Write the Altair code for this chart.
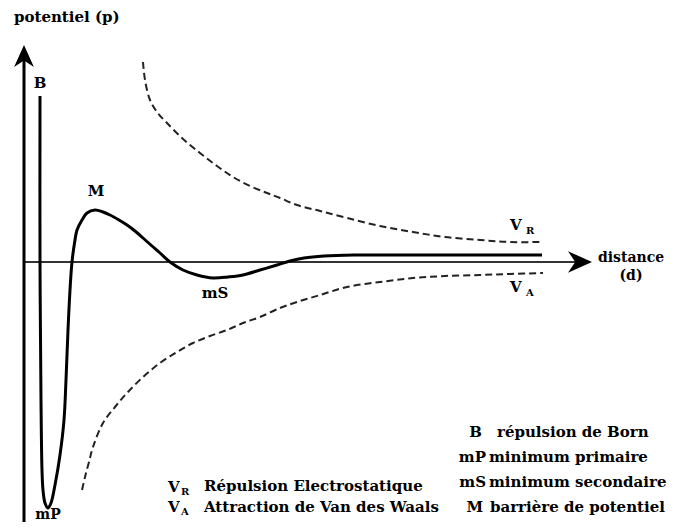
import altair as alt
import pandas as pd

# ---- data (d = distance, p = potentiel; 0 at the axes) ----
tot_d = [16, 16, 17, 18, 19, 21, 24, 27, 31, 36, 40, 42, 44, 46, 48, 51, 53, 58, 63, 71, 79, 86, 95,
         103, 111, 119, 128, 136, 146, 159, 173, 189, 204, 219, 236, 253, 266, 280, 300, 330, 370, 420,
         470, 518]
tot_p = [166, 2, -138, -208, -228, -241, -246, -241, -223, -193, -158, -118, -68, -28, 0, 22, 32, 42, 49,
         52, 50, 47, 42, 37, 31, 24, 16, 9, 0, -8, -13, -16, -15, -13, -8, -3, 1, 4, 6, 7, 7, 7, 7, 7]

vr_d = [119, 121, 126, 133, 143, 159, 176, 193, 209, 226, 243, 256, 273, 296, 323, 356, 389, 421, 456, 486, 519]
vr_p = [200, 182, 162, 150, 139, 123, 109, 96, 85, 76, 69, 64, 57, 51, 44, 36, 30, 25, 22, 20, 20]

va_d = [58, 61, 65, 69, 79, 91, 103, 119, 136, 153, 169, 186, 203, 219, 236, 256, 273, 296, 323, 356,
        389, 421, 456, 486, 519]
va_p = [-228, -215, -200, -185, -161, -145, -131, -115, -101, -90, -81, -74, -68, -61, -55, -46, -40,
        -33, -25, -20, -16, -14, -13, -12, -11]

# labels
left_t = ["potentiel (p)", "V", "V", "V", "Répulsion Electrostatique", "V",
          "Attraction de Van des Waals", "répulsion de Born", "minimum primaire",
          "minimum secondaire", "barrière de potentiel"]
left_d = [-10, 486, 486, 144, 180, 144, 180, 473, 465, 465, 466]
left_p = [245, 37, -25, -225, -224, -245, -245, -170, -195, -220, -245]

key_t = ["B", "mP", "mS", "M"]
key_d = [458, 462, 462, 459]
key_p = [-170, -195, -220, -245]

center_t = ["B", "M", "mS"]
center_d = [16, 72, 191]
center_p = [179, 71, -31]

small_t = ["distance", "(d)", "mP"]
small_d = [607, 607, 24]
small_p = [4, -14, -253]

sub_t = ["R", "A", "R", "A"]
sub_d = [502, 502, 157, 157]
sub_p = [31, -31, -230, -250]

X = alt.Scale(domain=[-16, 644], nice=False, zero=False)
Y = alt.Scale(domain=[-260, 254], nice=False, zero=False)
FONT = "DejaVu Serif"


def curve(d, p, width, dash=None):
    df = pd.DataFrame({"d": d, "p": p, "i": list(range(len(d)))})
    kw = dict(color="black", strokeWidth=width, interpolate="catmull-rom")
    if dash:
        kw["strokeDash"] = dash
        kw["color"] = "#222222"
    return alt.Chart(df).mark_line(**kw).encode(
        x=alt.X("d:Q", scale=X, axis=None),
        y=alt.Y("p:Q", scale=Y, axis=None),
        order="i:Q",
    )


axes_df = pd.DataFrame({"d": [0, 0], "d2": [0, 560], "p": [-268, 0], "p2": [210, 0]})
vaxis = alt.Chart(axes_df.iloc[[0]]).mark_rule(color="black", strokeWidth=3).encode(
    x=alt.X("d:Q", scale=X, axis=None), y=alt.Y("p:Q", scale=Y, axis=None), y2="p2:Q")
haxis = alt.Chart(axes_df.iloc[[1]]).mark_rule(color="#333333", strokeWidth=2).encode(
    x=alt.X("d:Q", scale=X, axis=None), x2="d2:Q", y=alt.Y("p:Q", scale=Y, axis=None))

ARROW = "M0,-1L0.9,1L0,0.4L-0.9,1Z"
up_arrow = alt.Chart(pd.DataFrame({"d": [0], "p": [206]})).mark_point(
    shape=ARROW, filled=True, color="black", opacity=1, size=484, strokeWidth=0).encode(
    x=alt.X("d:Q", scale=X, axis=None), y=alt.Y("p:Q", scale=Y, axis=None))
right_arrow = alt.Chart(pd.DataFrame({"d": [556], "p": [0]})).mark_point(
    shape=ARROW, filled=True, color="black", opacity=1, size=576, strokeWidth=0, angle=90).encode(
    x=alt.X("d:Q", scale=X, axis=None), y=alt.Y("p:Q", scale=Y, axis=None))


def texts(t, d, p, size, align):
    df = pd.DataFrame({"t": t, "d": d, "p": p})
    return alt.Chart(df).mark_text(font=FONT, fontWeight="bold", fontSize=size, align=align,
                                   baseline="middle", color="black").encode(
        x=alt.X("d:Q", scale=X, axis=None), y=alt.Y("p:Q", scale=Y, axis=None), text="t:N")


chart = alt.layer(
    haxis, vaxis, up_arrow, right_arrow,
    curve(vr_d, vr_p, 2, [7, 4]),
    curve(va_d, va_p, 2, [7, 4]),
    curve(tot_d, tot_p, 3),
    texts(left_t, left_d, left_p, 15, "left"),
    texts(key_t, key_d, key_p, 15, "right"),
    texts(center_t, center_d, center_p, 15, "center"),
    texts(small_t, small_d, small_p, 14, "center"),
    texts(sub_t, sub_d, sub_p, 10, "left"),
).properties(
    width=660, height=514, padding=0, background="white",
    autosize=alt.AutoSizeParams(type="none"),
).configure_view(strokeWidth=0)

chart.save("out.html", embed_options={"renderer": "svg", "actions": False})
